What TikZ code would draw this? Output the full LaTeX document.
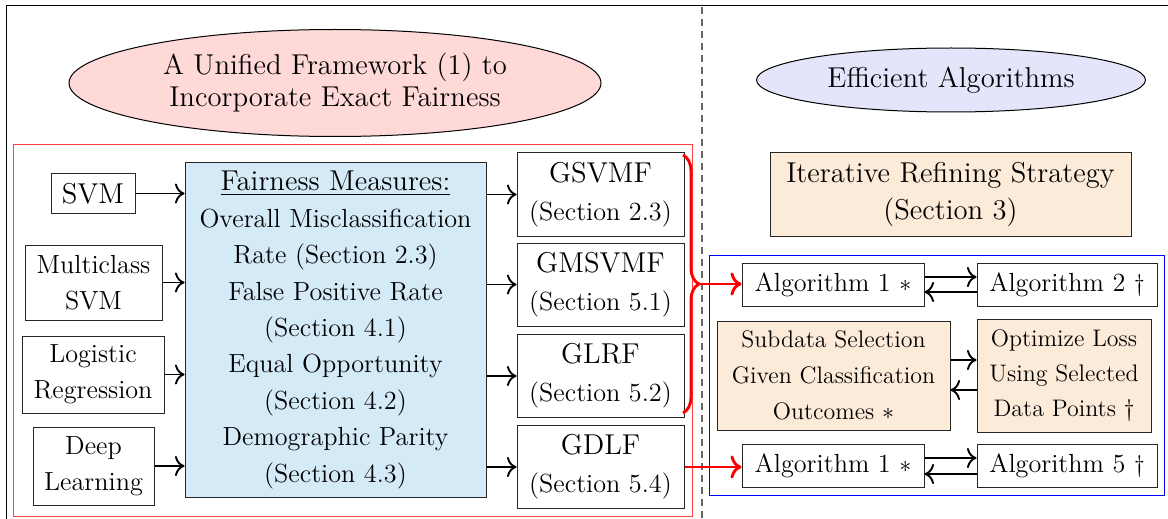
\documentclass[tikz,border=0pt]{standalone}
\usepackage{fontspec}
\usetikzlibrary{decorations.pathreplacing,shapes.geometric,calc,arrows.meta}
\definecolor{fairblue}{RGB}{212,234,247}
\definecolor{pinkfill}{RGB}{255,216,216}
\definecolor{lavfill}{RGB}{228,228,250}
\definecolor{peach}{RGB}{253,235,217}
\newcommand\myLg{\fontsize{14.35}{18.2}\selectfont}
\newcommand\myNm{\fontsize{13.1}{18.2}\selectfont}
\newcommand\mySm{\fontsize{11.96}{18}\selectfont}
\newcommand\myGt[1]{{\fontsize{14.35}{19}\selectfont #1}}
\begin{document}
\begin{tikzpicture}[x=0.5pt,y=-0.5pt, line width=0.5pt,
  box/.style={draw=black!85, inner sep=0pt, align=center, font=\myNm},
  gbox/.style={box, minimum width=83.5pt, minimum height=41.5pt, font=\fontsize{13.1}{19}\selectfont},
  algbox/.style={box, minimum height=21.5pt},
  arr/.style={-{To[scale=1.3]}, line width=0.95pt},
  redarr/.style={-{To[scale=1.15]}, red, line width=1.45pt},
  oval/.style={draw, ellipse, inner sep=0pt, align=center},
]
\useasboundingbox (0,0) rectangle (1168,519);

% outer frame and separator
\draw (6,519) -- (6,6) -- (1168,6);
\draw[black!60, line width=0.9pt, dash pattern=on 3.5pt off 2.5pt] (702,7) -- (702,519);

% titles
\node[oval, fill=pinkfill, minimum width=266pt, minimum height=53.5pt,
      font=\fontsize{14.35}{16}\selectfont] (uf) at (335,83)
      {A Unified Framework (1) to\\Incorporate Exact Fairness};
\node[oval, fill=lavfill, minimum width=194.5pt, minimum height=32pt,
      font=\fontsize{14.35}{16}\selectfont] (ea) at (951,80) {Efficient Algorithms};

% frames
\draw[red!75] (13,145) rectangle (692,516);
\draw[blue] (709,255) rectangle (1164,495);

% left models
\node[box, minimum width=42pt, minimum height=19.5pt, font=\myLg] (svm) at (93,193.5) {SVM};
\node[box, minimum width=68.5pt, minimum height=37.5pt] (msvm) at (93.5,282.5) {Multiclass\\SVM};
\node[box, minimum width=71pt, minimum height=38.5pt] (lr) at (93,374.5) {Logistic\\Regression};
\node[box, minimum width=60.5pt, minimum height=39pt] (dl) at (93.5,466) {Deep\\Learning};

% fairness measures
\node[box, fill=fairblue, minimum width=150.5pt, minimum height=167pt] (fm) at (335.5,330)
  {{\myLg\underline{Fairness Measures:}}\\Overall Misclassification\\Rate (Section 2.3)\\False Positive Rate\\(Section 4.1)\\Equal Opportunity\\(Section 4.2)\\Demographic Parity\\(Section 4.3)};

% frameworks
\node[gbox] (g1) at (600.5,194.5) {\myGt{GSVMF}\\(Section 2.3)};
\node[gbox] (g2) at (600.5,284.5) {\myGt{GMSVMF}\\(Section 5.1)};
\node[gbox] (g3) at (600.5,376) {\myGt{GLRF}\\(Section 5.2)};
\node[gbox] (g4) at (600.5,467) {\myGt{GDLF}\\(Section 5.4)};

% right side
\node[box, fill=peach, minimum width=180.5pt, minimum height=41.5pt,
      font=\fontsize{14.35}{18.5}\selectfont] (irs) at (950.5,194.5)
      {Iterative Refining Strategy\\(Section 3)};
\node[algbox, minimum width=91pt] (a1) at (833,284.5) {Algorithm 1 $\ast$};
\node[algbox, minimum width=90pt] (a2) at (1067,284.5) {Algorithm 2 $\dagger$};
\node[box, fill=peach, minimum width=116.5pt, minimum height=54.5pt, font=\mySm] (sub) at (833.5,375.5)
  {Subdata Selection\\Given Classification\\Outcomes $\ast$};
\node[box, fill=peach, minimum width=87pt, minimum height=56.5pt, font=\fontsize{11.96}{17.5}\selectfont] (opt) at (1064,375.5)
  {Optimize Loss\\Using Selected\\Data Points $\dagger$};
\node[algbox, minimum width=91pt] (a3) at (833,466) {Algorithm 1 $\ast$};
\node[algbox, minimum width=90pt] (a5) at (1067,466) {Algorithm 5 $\dagger$};

% arrows left
\foreach \n in {svm,msvm,lr,dl} \draw[arr] (\n.east) -- (\n.east -| fm.west);
\foreach \n in {g1,g2,g3,g4} \draw[arr] (\n.west -| fm.east) -- (\n.west);

% arrows right
\draw[arr] ([yshift=3.75pt]a1.east) -- ([yshift=3.75pt]a2.west);
\draw[arr] ([yshift=-3.75pt]a2.west) -- ([yshift=-3.75pt]a1.east);
\draw[arr] ([yshift=7.75pt]sub.east) -- ([yshift=7.75pt]sub.east -| opt.west);
\draw[arr] ([yshift=-7.25pt]sub.east -| opt.west) -- ([yshift=-7.25pt]sub.east);
\draw[arr] ([yshift=4pt]a3.east) -- ([yshift=4pt]a5.west);
\draw[arr] ([yshift=-4pt]a5.west) -- ([yshift=-4pt]a3.east);

% brace and red arrows
\coordinate (bt) at (683,155);
\coordinate (bb) at (683,413);
\draw[red, line width=1.45pt, decorate, decoration={brace, amplitude=8pt}] (bt) -- (bb)
  coordinate[midway, xshift=8pt] (tip);
\draw[redarr] (tip) -- (tip -| a1.west);
\draw[redarr] (g4.east) -- (g4.east -| a3.west);
\end{tikzpicture}
\end{document}
